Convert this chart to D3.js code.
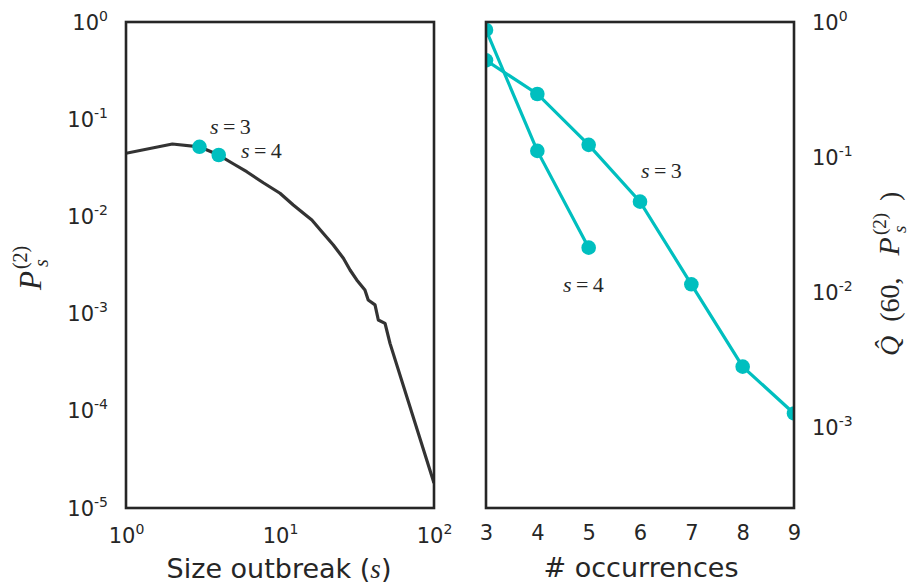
<!DOCTYPE html>
<html>
<head>
<meta charset="utf-8">
<script src="https://cdn.jsdelivr.net/npm/d3@7"></script>
<style>
  body { margin: 0; background: #fff; }
  svg { display: block; }
  .tick text { font-family: "DejaVu Sans", sans-serif; fill: #262626; }
</style>
</head>
<body>
<svg id="chart" width="909" height="585"></svg>
<script>
// Left panel: outbreak size distribution
const sizeS = [1, 2, 3, 4, 5, 6.08, 7.79, 10.0, 12.2, 14.2, 16.1, 18.7, 22.2, 25.8, 28.5, 31.5, 35.6, 37.4, 41.4, 43.5, 48.1, 51.8, 100];
const probP = [0.0446, 0.0556, 0.052, 0.0428, 0.0346, 0.0288, 0.0222, 0.0173, 0.0131, 0.01076, 0.00918, 0.00696, 0.00508, 0.00371, 0.00281, 0.00222, 0.00175, 0.00138, 0.00123, 0.000859, 0.000794, 0.000494, 1.81e-5];
const markS = [3, 4];
const markP = [0.052, 0.0428];

// Right panel: occurrences
const occ3 = [3, 4, 5, 6, 7, 8, 9];
const q3 = [0.52, 0.293, 0.123, 0.0467, 0.0114, 0.0028, 0.00126];
const occ4 = [3, 4, 5];
const q4 = [0.873, 0.111, 0.0213];

const leftYTicks = [0, -1, -2, -3, -4, -5];
const leftXTicks = [0, 1, 2];
const rightYTicks = [0, -1, -2, -3];
const rightXTicks = [3, 4, 5, 6, 7, 8, 9];

const cyan = '#00bfbf';
const dark = '#333333';
const frame = '#262626';
const ink = '#262626';
const sans = '"DejaVu Sans", sans-serif';
const serif = '"Liberation Serif", serif';

const svg = d3.select('#chart');

const L = { x0: 126, x1: 434, y0: 22, y1: 508 };
const R = { x0: 486, x1: 794, y0: 22, y1: 508 };

const xL = d3.scaleLog().domain([1, 100]).range([L.x0, L.x1]);
const yL = d3.scaleLog().domain([1e-5, 1]).range([L.y1, L.y0]);
const xR = d3.scaleLinear().domain([3, 9]).range([R.x0, R.x1]);
const yR = d3.scaleLog().domain([Math.pow(10, -3.6), 1]).range([R.y1, R.y0]);

const defs = svg.append('defs');
defs.append('clipPath').attr('id', 'clipL').append('rect')
    .attr('x', L.x0).attr('y', L.y0).attr('width', L.x1 - L.x0).attr('height', L.y1 - L.y0);
defs.append('clipPath').attr('id', 'clipR').append('rect')
    .attr('x', R.x0).attr('y', R.y0).attr('width', R.x1 - R.x0).attr('height', R.y1 - R.y0);

// power-of-ten label with superscript
function powLabel(sel, exp) {
    sel.text(null);
    sel.append('tspan').text('10');
    sel.append('tspan').attr('dy', -9).style('font-size', '14px').text(String(exp));
}

// ---- left axes
const gYL = svg.append('g').attr('transform', `translate(${L.x0},0)`)
    .call(d3.axisLeft(yL).tickValues(leftYTicks.map(e => Math.pow(10, e))).tickSize(0).tickPadding(18));
gYL.select('.domain').remove();
gYL.selectAll('.tick text').style('font-size', '21px').attr('dy', 7)
    .each(function(d) { powLabel(d3.select(this), Math.round(Math.log10(d))); });

const gXL = svg.append('g').attr('transform', `translate(0,${L.y1})`)
    .call(d3.axisBottom(xL).tickValues(leftXTicks.map(e => Math.pow(10, e))).tickSize(0));
gXL.select('.domain').remove();
gXL.selectAll('.tick text').style('font-size', '21px').attr('y', 35).attr('dy', 0)
    .each(function(d) { powLabel(d3.select(this), Math.round(Math.log10(d))); });

// ---- right axes
const gYR = svg.append('g').attr('transform', `translate(${R.x1},0)`)
    .call(d3.axisRight(yR).tickValues(rightYTicks.map(e => Math.pow(10, e))).tickSize(0).tickPadding(18));
gYR.select('.domain').remove();
gYR.selectAll('.tick text').style('font-size', '21px').attr('dy', 7)
    .each(function(d) { powLabel(d3.select(this), Math.round(Math.log10(d))); });

const gXR = svg.append('g').attr('transform', `translate(0,${R.y1})`)
    .call(d3.axisBottom(xR).tickValues(rightXTicks).tickFormat(d3.format('d')).tickSize(0));
gXR.select('.domain').remove();
gXR.selectAll('.tick text').style('font-size', '21px').attr('y', 32).attr('dy', 0);

// ---- left plot
const gL = svg.append('g').attr('clip-path', 'url(#clipL)');
gL.append('path')
    .datum(sizeS.map((s, i) => [s, probP[i]]))
    .attr('d', d3.line().x(d => xL(d[0])).y(d => yL(d[1])))
    .attr('fill', 'none').attr('stroke', dark).attr('stroke-width', 3.2)
    .attr('stroke-linejoin', 'round');
gL.selectAll('circle').data(markS.map((s, i) => [s, markP[i]])).enter()
    .append('circle')
    .attr('cx', d => xL(d[0])).attr('cy', d => yL(d[1])).attr('r', 7.3)
    .attr('fill', cyan);

// ---- right plot
const gR = svg.append('g').attr('clip-path', 'url(#clipR)');
[[occ3, q3], [occ4, q4]].forEach(([xs, ys]) => {
    const pts = xs.map((x, i) => [x, ys[i]]);
    gR.append('path').datum(pts)
        .attr('d', d3.line().x(d => xR(d[0])).y(d => yR(d[1])))
        .attr('fill', 'none').attr('stroke', cyan).attr('stroke-width', 3.2);
    gR.append('g').selectAll('circle').data(pts).enter()
        .append('circle')
        .attr('cx', d => xR(d[0])).attr('cy', d => yR(d[1])).attr('r', 7.3)
        .attr('fill', cyan);
});

// frames
[L, R].forEach(p => {
    svg.append('rect').attr('x', p.x0).attr('y', p.y0)
        .attr('width', p.x1 - p.x0).attr('height', p.y1 - p.y0)
        .attr('fill', 'none').attr('stroke', frame).attr('stroke-width', 2.6);
});

// math labels "s = n"
function sLabel(x, y, n) {
    const t = svg.append('text').attr('x', x).attr('y', y)
        .style('font-family', serif).style('font-size', '22px').attr('fill', ink);
    t.append('tspan').style('font-style', 'italic').text('s');
    t.append('tspan').text('\u2009=\u2009' + n);
}
sLabel(210, 134, 3);
sLabel(241, 158, 4);
sLabel(641, 178, 3);
sLabel(563, 292, 4);

// axis titles
const xt = svg.append('text').attr('x', 279).attr('y', 578).attr('text-anchor', 'middle')
    .style('font-family', sans).style('font-size', '27px').attr('fill', ink);
xt.append('tspan').text('Size outbreak (');
xt.append('tspan').style('font-family', serif).style('font-style', 'italic').text('s');
xt.append('tspan').text(')');

svg.append('text').attr('x', 641).attr('y', 577).attr('text-anchor', 'middle')
    .style('font-family', sans).style('font-size', '27px').attr('fill', ink)
    .text('# occurrences');

// P_s^(2) written into a text element, sup and sub stacked
function appendPs(t, pSize, sSize) {
    t.append('tspan').style('font-style', 'italic').style('font-size', pSize + 'px').text('P');
    const sup = t.append('tspan').attr('dx', 2).attr('dy', -0.45 * pSize)
        .style('font-size', sSize + 'px').text('(2)');
    const w = sup.node().getComputedTextLength();
    const sub = t.append('tspan').attr('dx', -w + 2).attr('dy', 0.68 * pSize)
        .style('font-style', 'italic').style('font-size', sSize + 'px').text('s');
    const ws = sub.node().getComputedTextLength();
    return { back: w - ws - 2, dy: -0.23 * pSize };
}

// left y title
const yl = svg.append('text').attr('transform', 'translate(41,290) rotate(-90)')
    .style('font-family', serif).attr('fill', ink);
appendPs(yl, 31, 20);

// right y title: Q^(60, P_s^(2))
const yr = svg.append('text').attr('transform', 'translate(899,356) rotate(-90)')
    .style('font-family', serif).style('font-size', '28px').attr('fill', ink);
yr.append('tspan').style('font-style', 'italic').text('Q\u0302');
yr.append('tspan').attr('dx', 14).text('(60,');
yr.append('tspan').attr('dx', 8).text('\u2002');
const rest = appendPs(yr, 30, 19);
yr.append('tspan').attr('dx', rest.back + 12).attr('dy', rest.dy).style('font-size', '28px').text(')');
</script>
</body>
</html>
